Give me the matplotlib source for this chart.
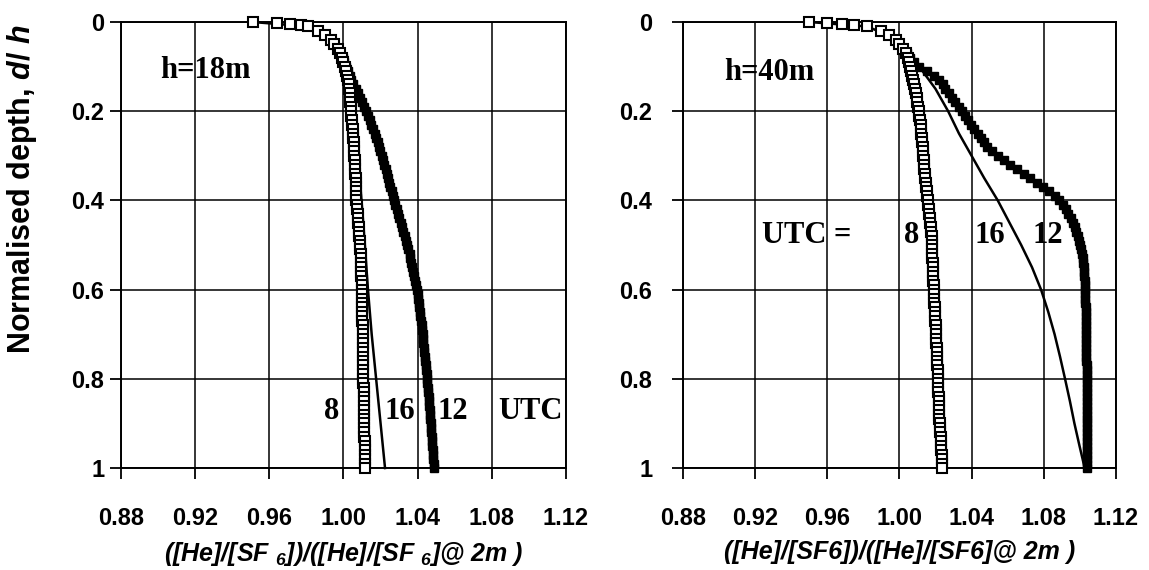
import numpy as np
import matplotlib
matplotlib.use('Agg')
import matplotlib.pyplot as plt
from matplotlib.ticker import FuncFormatter

plt.rcParams['font.family'] = 'Liberation Sans'
plt.rcParams['font.weight'] = 'bold'
plt.rcParams['axes.labelweight'] = 'bold'
plt.rcParams['mathtext.fontset'] = 'custom'
plt.rcParams['mathtext.rm'] = 'Liberation Sans:bold:italic'
plt.rcParams['mathtext.it'] = 'Liberation Sans:bold:italic'

# normalised depth of the profile samples (fine near the surface)
depth = np.array([0, 0.002, 0.004, 0.006] + [round(0.01 * i, 2) for i in range(1, 101)])

# h = 18 m profiles, ratio ([He]/[SF6])/([He]/[SF6]@2m)
h18_utc8 = [0.951, 0.964, 0.971, 0.977,
            0.981, 0.986, 0.990, 0.993, 0.995, 0.997, 0.998, 0.999, 1.000, 1.0008,
            1.0015, 1.0020, 1.0024, 1.0028, 1.0030, 1.0033, 1.0035, 1.0037, 1.0039, 1.0041,
            1.0043, 1.0045, 1.0047, 1.0049, 1.0050, 1.0052, 1.0054, 1.0056, 1.0057, 1.0059,
            1.0060, 1.0062, 1.0063, 1.0064, 1.0065, 1.0066, 1.0067, 1.0068, 1.0069, 1.0070,
            1.0072, 1.0074, 1.0076, 1.0078, 1.0080, 1.0082, 1.0084, 1.0086, 1.0088, 1.0090,
            1.0091, 1.0092, 1.0093, 1.0094, 1.0095, 1.0096, 1.0097, 1.0098, 1.0099, 1.0100,
            1.0100, 1.0101, 1.0101, 1.0101, 1.0102, 1.0102, 1.0102, 1.0103, 1.0103, 1.0103,
            1.0104, 1.0104, 1.0104, 1.0105, 1.0105, 1.0105, 1.0106, 1.0106, 1.0106, 1.0107,
            1.0107, 1.0108, 1.0108, 1.0109, 1.0109, 1.0110, 1.0110, 1.0111, 1.0111, 1.0112,
            1.0112, 1.0113, 1.0113, 1.0114, 1.0114, 1.0115, 1.0115, 1.0116, 1.0116, 1.0117]
h18_utc12 = [0.951, 0.964, 0.971, 0.977,
             0.981, 0.986, 0.990, 0.993, 0.995, 0.997, 0.998, 0.9995, 1.0005, 1.0015,
             1.0025, 1.0033, 1.0042, 1.0050, 1.0065, 1.0076, 1.0088, 1.0100, 1.0112, 1.0124,
             1.0133, 1.0142, 1.0151, 1.0160, 1.0168, 1.0176, 1.0184, 1.0192, 1.0199, 1.0206,
             1.0213, 1.0220, 1.0227, 1.0234, 1.0240, 1.0246, 1.0253, 1.0259, 1.0265, 1.0273,
             1.0280, 1.0287, 1.0294, 1.0301, 1.0308, 1.0316, 1.0323, 1.0330, 1.0337, 1.0344,
             1.0350, 1.0356, 1.0361, 1.0366, 1.0371, 1.0376, 1.0381, 1.0386, 1.0391, 1.0396,
             1.0400, 1.0403, 1.0406, 1.0409, 1.0412, 1.0415, 1.0418, 1.0421, 1.0424, 1.0427,
             1.0429, 1.0431, 1.0433, 1.0436, 1.0438, 1.0441, 1.0443, 1.0446, 1.0448, 1.0451,
             1.0453, 1.0455, 1.0457, 1.0459, 1.0461, 1.0463, 1.0465, 1.0467, 1.0469, 1.0471,
             1.0472, 1.0474, 1.0476, 1.0478, 1.0480, 1.0481, 1.0483, 1.0485, 1.0487, 1.0489]
h18_utc16_depth = [0, 0.01, 0.03, 0.05, 0.08, 0.1, 0.15, 0.2, 0.3, 0.4, 0.5, 0.6, 0.7, 0.8, 0.9, 1.0]
h18_utc16 = [0.951, 0.981, 0.990, 0.995, 0.999, 1.001, 1.004, 1.0055, 1.0078, 1.0097,
             1.0115, 1.0132, 1.0152, 1.0176, 1.0200, 1.0224]

# h = 40 m profiles
h40_utc8 = [0.950, 0.960, 0.968, 0.975,
            0.982, 0.990, 0.994, 0.998, 1.000, 1.002, 1.0035, 1.0045, 1.0052, 1.0058,
            1.0064, 1.0070, 1.0075, 1.0080, 1.0085, 1.0090, 1.0095, 1.0100, 1.0104, 1.0108,
            1.0111, 1.0114, 1.0117, 1.0120, 1.0122, 1.0124, 1.0126, 1.0128, 1.0130, 1.0132,
            1.0134, 1.0136, 1.0138, 1.0140, 1.0142, 1.0145, 1.0148, 1.0151, 1.0154, 1.0157,
            1.0160, 1.0163, 1.0166, 1.0169, 1.0172, 1.0174, 1.0176, 1.0178, 1.0179, 1.0180,
            1.0181, 1.0182, 1.0183, 1.0184, 1.0185, 1.0186, 1.0187, 1.0188, 1.0189, 1.0190,
            1.0191, 1.0192, 1.0194, 1.0195, 1.0196, 1.0198, 1.0199, 1.0200, 1.0202, 1.0203,
            1.0204, 1.0205, 1.0206, 1.0207, 1.0208, 1.0209, 1.0210, 1.0211, 1.0212, 1.0213,
            1.0214, 1.0215, 1.0216, 1.0217, 1.0218, 1.0219, 1.0220, 1.0221, 1.0222, 1.0223,
            1.0225, 1.0226, 1.0228, 1.0229, 1.0231, 1.0232, 1.0234, 1.0235, 1.0237, 1.0238]
h40_utc12 = [0.950, 0.960, 0.968, 0.975,
             0.982, 0.990, 0.994, 0.998, 1.000, 1.002, 1.004, 1.006, 1.008, 1.011,
             1.0155, 1.0190, 1.0220, 1.0240, 1.0255, 1.0272, 1.0290, 1.0310, 1.0328, 1.0345,
             1.0363, 1.0380, 1.0398, 1.0416, 1.0434, 1.0452, 1.0470, 1.0488, 1.0515, 1.0545,
             1.0580, 1.0615, 1.0650, 1.0688, 1.0725, 1.0760, 1.0795, 1.0830, 1.0860, 1.0885,
             1.0905, 1.0922, 1.0937, 1.0950, 1.0962, 1.0972, 1.0981, 1.0989, 1.0996, 1.1002,
             1.1007, 1.1011, 1.1015, 1.1018, 1.1021, 1.1023, 1.1025, 1.1027, 1.1028, 1.1029,
             1.1030, 1.1031, 1.1031, 1.1032, 1.1032, 1.1033, 1.1033, 1.1034, 1.1034, 1.1034,
             1.1035, 1.1035, 1.1035, 1.1036, 1.1036, 1.1036, 1.1037, 1.1037, 1.1037, 1.1038,
             1.1038, 1.1038, 1.1038, 1.1039, 1.1039, 1.1039, 1.1039, 1.1040, 1.1040, 1.1040,
             1.1040, 1.1040, 1.1041, 1.1041, 1.1041, 1.1041, 1.1042, 1.1042, 1.1042, 1.1042]
h40_utc16_depth = [0, 0.01, 0.03, 0.05, 0.08, 0.1, 0.15, 0.2, 0.25, 0.3, 0.35, 0.4,
                   0.45, 0.5, 0.55, 0.6, 0.65, 0.7, 0.75, 0.8, 0.85, 0.9, 0.95, 1.0]
h40_utc16 = [0.950, 0.982, 0.994, 1.000, 1.006, 1.011, 1.020, 1.027, 1.033, 1.040, 1.047, 1.0545,
             1.061, 1.0675, 1.0735, 1.0785, 1.0825, 1.086, 1.089, 1.0918, 1.0945, 1.097, 1.0998, 1.1027]

xticks = [0.88, 0.92, 0.96, 1.00, 1.04, 1.08, 1.12]
yticks = [0, 0.2, 0.4, 0.6, 0.8, 1.0]

fig = plt.figure(figsize=(11.49, 5.70), dpi=100)
ax1 = fig.add_axes([0.1053, 0.1789, 0.3873, 0.7825])
ax2 = fig.add_axes([0.5944, 0.1789, 0.3768, 0.7825])


def setup(ax, ypad):
    ax.set_xlim(0.88, 1.12)
    ax.set_ylim(1, 0)
    ax.set_xticks(xticks)
    ax.set_yticks(yticks)
    ax.xaxis.set_major_formatter(FuncFormatter(lambda v, p: f'{v:.2f}'))
    ax.yaxis.set_major_formatter(FuncFormatter(lambda v, p: f'{v:g}'))
    ax.grid(True, color='black', lw=1.1)
    ax.set_axisbelow(True)
    ax.tick_params(direction='out', length=8, width=1.3, labelsize=17)
    ax.tick_params(axis='x', pad=20)
    ax.tick_params(axis='y', pad=ypad)
    for s in ax.spines.values():
        s.set_linewidth(1.4)


def profiles(ax, d16, x16, x8, x12):
    ax.plot(x16, d16, '-', color='black', lw=1.8, zorder=3, clip_on=False)
    ax.plot(x12, depth, ls='none', marker='s', ms=6, color='black', zorder=4, clip_on=False)
    ax.plot(x8, depth, ls='none', marker='s', ms=7, mfc='white', mec='black', mew=1.5,
            zorder=5, clip_on=False)


setup(ax1, 4)
setup(ax2, 14)
profiles(ax1, h18_utc16_depth, h18_utc16, h18_utc8, h18_utc12)
profiles(ax2, h40_utc16_depth, h40_utc16, h40_utc8, h40_utc12)

ax1.set_xlabel(r'([He]/[SF $_{6}$])/([He]/[SF $_{6}$]@ 2m )', fontsize=18, style='italic',
               fontweight='bold', labelpad=7)
ax2.set_xlabel(r'([He]/[SF6])/([He]/[SF6]@ 2m )', fontsize=18, style='italic',
               fontweight='bold', labelpad=7)
fig.text(0.019, 1 - 189 / 570, 'Normalised depth, $d$/ $h$', rotation=90, fontsize=22,
         ha='center', va='center')

serif = dict(family='Liberation Serif', fontweight='bold', fontsize=22, ha='center', va='center')
ax1.text(0.9258, 0.108, 'h=18m', **serif)
ax1.text(0.9937, 0.874, '8', **serif)
ax1.text(1.0304, 0.874, '16', **serif)
ax1.text(1.059, 0.874, '12', **serif)
ax1.text(1.101, 0.874, 'UTC', **serif)

ax2.text(0.9277, 0.114, 'h=40m', **serif)
ax2.text(0.9487, 0.478, 'UTC =', **serif)
ax2.text(1.0069, 0.478, '8', **serif)
ax2.text(1.050, 0.478, '16', **serif)
ax2.text(1.0822, 0.478, '12', **serif)

fig.savefig('out.png', dpi=100)
